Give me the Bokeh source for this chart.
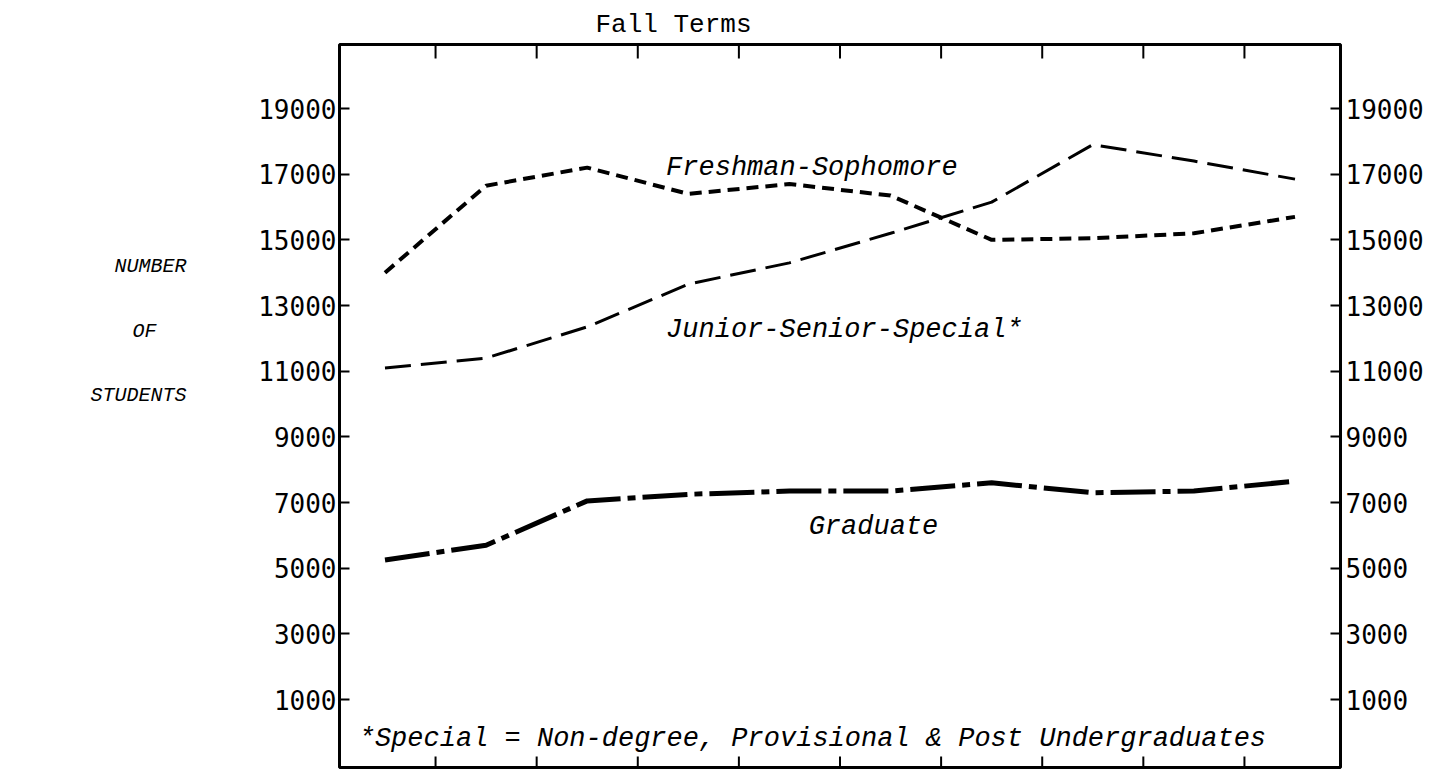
from bokeh.plotting import figure
from bokeh.models import LinearAxis, FixedTicker, Label, Range1d, Title
from bokeh.layouts import row
from bokeh.embed import file_html
from bokeh.resources import INLINE

# ---- data (fall terms, index 0..9) ----
terms = list(range(10))
freshman_sophomore = [14000, 16650, 17200, 16400, 16700, 16350, 15000, 15050, 15200, 15700]
junior_senior_special = [11100, 11400, 12350, 13650, 14300, 15200, 16150, 17900, 17400, 16850]
graduate = [5250, 5700, 7050, 7250, 7350, 7350, 7600, 7300, 7350, 7650]

y_ticks = [1000, 3000, 5000, 7000, 9000, 11000, 13000, 15000, 17000, 19000]
y_tick_labels = [str(v) for v in y_ticks]
x_ticks = [t + 0.5 for t in terms[:-1]]

H = 772
LEFT_W = 255
MAIN_W = 1440 - LEFT_W
top_b, bot_b, left_b, right_b = 44, 5, 84, 100

# ---------------- left text column (frame aligned with main frame) ----------------
side = figure(width=LEFT_W, height=H, x_range=Range1d(0, LEFT_W),
              y_range=Range1d(H - bot_b, top_b),
              output_backend="svg", toolbar_location=None, title_location=None,
              x_axis_location=None, y_axis_location=None,
              min_border_left=0, min_border_right=0,
              min_border_top=top_b, min_border_bottom=bot_b)
side.outline_line_color = None
side.xgrid.grid_line_color = None
side.ygrid.grid_line_color = None
side_style = dict(text_font="Liberation Mono", text_font_style="italic",
                  text_font_size="20px", text_color="black", text_baseline="middle")
side.add_layout(Label(x=186, y=266, text="NUMBER", text_align="right", **side_style))
side.add_layout(Label(x=144, y=331, text="OF", text_align="center", **side_style))
side.add_layout(Label(x=186, y=395, text="STUDENTS", text_align="right", **side_style))

# ---------------- main chart ----------------
x_lo, x_hi = -0.45, 9.45
y_lo, y_hi = -1070, 20950

title = Title(text="Fall Terms", align="left", offset=256, standoff=10,
              text_font="Liberation Mono", text_font_size="26px",
              text_font_style="normal", text_color="black")

p = figure(width=MAIN_W, height=H, title=title,
           x_range=Range1d(x_lo, x_hi), y_range=Range1d(y_lo, y_hi),
           output_backend="svg", toolbar_location=None,
           x_axis_location=None, y_axis_location=None,
           min_border_left=left_b, min_border_right=right_b,
           min_border_top=top_b, min_border_bottom=bot_b)
p.background_fill_color = "white"
p.border_fill_color = "white"
p.outline_line_color = "black"
p.outline_line_width = 3
p.xgrid.grid_line_color = None
p.ygrid.grid_line_color = None

def yaxis(standoff):
    return LinearAxis(ticker=FixedTicker(ticks=y_ticks),
                      major_label_overrides={v: s for v, s in zip(y_ticks, y_tick_labels)},
                      major_tick_in=10, major_tick_out=0,
                      minor_tick_in=0, minor_tick_out=0,
                      major_tick_line_width=2, major_tick_line_color="black",
                      axis_line_color=None,
                      major_label_text_font="DejaVu Sans Mono",
                      major_label_text_font_size="26px",
                      major_label_text_color="black",
                      major_label_standoff=standoff)

p.add_layout(yaxis(3), "left")
p.add_layout(yaxis(5), "right")

# top / bottom inward tick marks at the term boundaries
frame_h = H - top_b - bot_b
per_px = (y_hi - y_lo) / frame_h
p.segment(x0=x_ticks, x1=x_ticks, y0=[y_hi] * len(x_ticks),
          y1=[y_hi - 14 * per_px] * len(x_ticks), line_color="black", line_width=2)
p.segment(x0=x_ticks, x1=x_ticks, y0=[y_lo] * len(x_ticks),
          y1=[y_lo + 11 * per_px] * len(x_ticks), line_color="black", line_width=2)

p.line(terms, freshman_sophomore, line_color="black", line_width=4, line_dash="12 7")
p.line(terms, junior_senior_special, line_color="black", line_width=3, line_dash="26 10")
p.line(terms, graduate, line_color="black", line_width=5, line_dash="45 7 8 7")

ital = dict(text_font="Liberation Mono", text_font_style="italic",
            text_font_size="27px", text_color="black",
            text_align="left", text_baseline="alphabetic")
p.add_layout(Label(x=2.78, y=17200, text="Freshman-Sophomore", **ital))
p.add_layout(Label(x=2.78, y=12240, text="Junior-Senior-Special*", **ital))
p.add_layout(Label(x=4.19, y=6240, text="Graduate", **ital))
p.add_layout(Label(x=-0.26, y=-200,
                   text="*Special = Non-degree, Provisional & Post Undergraduates", **ital))

layout = row(side, p)
open("out.html", "w").write(file_html(layout, INLINE))
